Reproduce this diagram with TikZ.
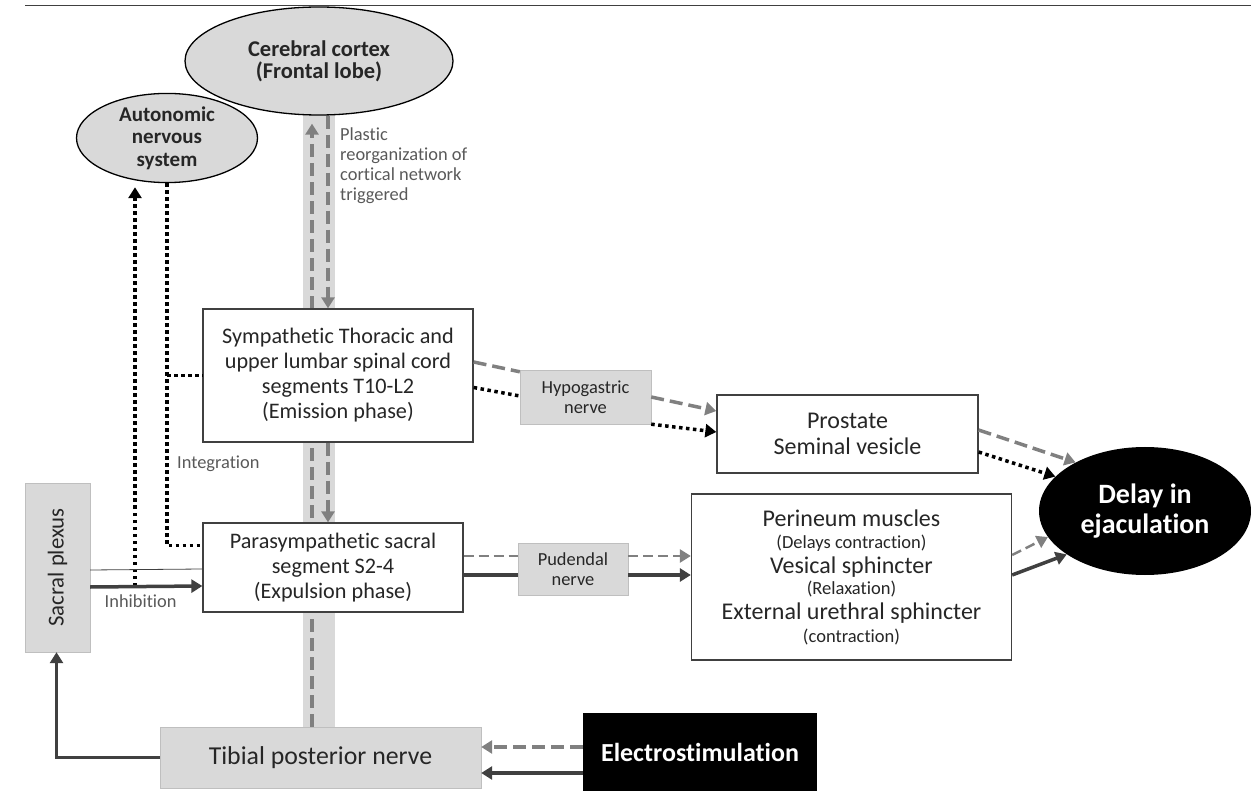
\documentclass[tikz,border=0pt]{standalone}
\usepackage{fontspec}
\setmainfont{Carlito}[Ligatures=NoCommon]
\usetikzlibrary{shapes.geometric,arrows.meta,backgrounds}

\definecolor{nervefill}{HTML}{D9D9D9}
\definecolor{nerveline}{HTML}{BFBFBF}
\definecolor{dashgray}{HTML}{808080}
\definecolor{darkline}{HTML}{404040}
\definecolor{textgray}{HTML}{262626}
\definecolor{labelgray}{HTML}{595959}

\tikzset{
  every node/.style={text=textgray},
  stage/.style={draw=darkline, line width=1.3pt, fill=white, align=center,
    inner sep=0pt, font=\fontsize{22.2}{25}\selectfont},
  nervebox/.style={draw=nerveline, fill=nervefill, align=center, inner sep=0pt,
    font=\fontsize{18.4}{20}\selectfont},
  centre/.style={ellipse, draw=black, line width=1.3pt, fill=nervefill,
    align=center, inner sep=0pt, font=\bfseries\fontsize{21}{22.5}\selectfont},
  note/.style={text=labelgray, align=left, inner sep=0pt,
    font=\fontsize{18.4}{20}\selectfont},
  headed/.style={-{Triangle[length=11pt,width=13pt]}},
  greydash/.style={draw=dashgray, line width=3.5pt, dash pattern=on 13pt off 6pt},
  thindash/.style={draw=dashgray, line width=2.5pt, dash pattern=on 10pt off 5pt},
  blackdot/.style={draw=black, line width=3.5pt, dash pattern=on 3.5pt off 3.5pt},
  darkarrow/.style={draw=darkline, line width=3.5pt},
}

\begin{document}
\begin{tikzpicture}[x=1pt,y=-1pt]
  \useasboundingbox (0,0) rectangle (1251,791);
  \draw[darkline, line width=1.5pt] (25,5.5) -- (1251,5.5);

  % centres
  \node[centre, minimum width=268pt, minimum height=108pt, font=\bfseries\fontsize{22.5}{22}\selectfont] (cortex) at (319,61) {Cerebral cortex\\(Frontal lobe)};
  \node[centre, minimum width=181pt, minimum height=84pt] (ans) at (167,138) {Autonomic\\nervous\\system};

  % spinal segments
  \node[stage, minimum width=270pt, minimum height=133pt] (symp) at (338,375.5)
    {Sympathetic Thoracic and\\upper lumbar spinal cord\\segments T10-L2\\(Emission phase)};
  \node[stage, minimum width=260pt, minimum height=89pt] (para) at (333,567.5)
    {Parasympathetic sacral\\segment S2-4\\(Expulsion phase)};

  % nerves
  \node[nervebox, minimum width=131pt, minimum height=54pt] (hypo) at (585.5,397) {Hypogastric\\nerve};
  \node[nervebox, minimum width=110pt, minimum height=52pt] (pud) at (573,569) {Pudendal\\nerve};
  \node[nervebox, minimum width=65pt, minimum height=169pt, font=\fontsize{22.8}{22}\selectfont] (sacral) at (57.5,567.5) {\rotatebox{90}{Sacral plexus}};
  \node[nervebox, minimum width=321pt, minimum height=61pt, font=\fontsize{25.8}{26}\selectfont] (tibial) at (320.5,757.5) {Tibial posterior nerve};

  % targets
  \node[stage, minimum width=261pt, minimum height=78pt, font=\fontsize{24}{26}\selectfont] (prost) at (847.5,434) {Prostate\\Seminal vesicle};
  \node[stage, minimum width=320pt, minimum height=166pt, font=\fontsize{24}{25}\selectfont] (perin) at (851.5,577)
    {Perineum muscles\\[-3pt]{\fontsize{18.5}{19}\selectfont (Delays contraction)}\\
     Vesical sphincter\\[-4pt]{\fontsize{18.5}{19}\selectfont (Relaxation)}\\
     External urethral sphincter\\[-2pt]{\fontsize{18.5}{19}\selectfont (contraction)}};
  \node[ellipse, fill=black, text=white, minimum width=212pt, minimum height=128pt, align=center,
    inner sep=0pt, font=\bfseries\fontsize{28}{30}\selectfont] (delay) at (1145,511) {Delay in\\ejaculation};
  \node[fill=black, text=white, minimum width=234pt, minimum height=78pt,
    font=\bfseries\fontsize{26}{28}\selectfont] (elec) at (700,752) {Electrostimulation};

  % labels
  \node[note, anchor=north west] (plastic) at (340,128) {Plastic\\reorganization of\\cortical network\\triggered};
  \node[note, anchor=west] (integ) at (177,464) {Integration};

  \coordinate (bandL) at (312,0);
  \coordinate (bandR) at (328,0);
  \coordinate (upstart) at (135,586);

  \begin{scope}[on background layer]
    \fill[nervefill] (303,112) rectangle (335,727);
    \draw[greydash, headed, shorten >=8pt] (tibial.north -| bandL) -- (cortex.south -| bandL);
  \end{scope}
  \draw[greydash, headed] (cortex.south -| bandR) -- (symp.north -| bandR);
  \draw[greydash, headed] (symp.south -| bandR) -- (para.north -| bandR);

  % autonomic loop
  \draw[blackdot] (ans.south) |- ([yshift=22pt]para.west);
  \draw[blackdot] (ans.south |- symp.west) -- (symp.west);
  \draw[blackdot, headed, shorten >=4pt] (upstart) -- (upstart |- ans.south);

  % sacral plexus
  \draw[darkline, line width=0.8pt] ([yshift=-2.5pt]sacral.east) -- ([yshift=-1.5pt]para.west);
  \draw[darkarrow, headed] ([yshift=-19.5pt]sacral.east) -- ([yshift=-18.5pt]para.west)
    node[note, pos=0.45, below=6pt] {Inhibition};
  \draw[darkarrow, headed] (tibial.west) -| ([xshift=-1pt]sacral.south);

  % emission
  \draw[greydash] ([yshift=13.5pt]symp.east) -- ([yshift=-2pt]hypo.north west);
  \draw[blackdot] ([yshift=-12pt]symp.east) -- ([yshift=1pt]hypo.west);
  \draw[greydash, headed] (hypo.east) -- ([yshift=23pt]prost.west);
  \draw[blackdot, headed] (hypo.south east) -- ([yshift=2pt]prost.west);
  \draw[greydash, headed] ([yshift=4pt]prost.east) -- (delay.145);
  \draw[blackdot, headed] ([yshift=-18pt]prost.east) -- (delay.159);

  % expulsion
  \draw[thindash] ([yshift=11.5pt]para.east) -- ([yshift=13pt]pud.west);
  \draw[thindash, headed] ([yshift=13pt]pud.east) -- ([yshift=21pt]perin.west);
  \draw[darkarrow] ([yshift=-7.5pt]para.east) -- ([yshift=-6pt]pud.west);
  \draw[darkarrow, headed] ([yshift=-6pt]pud.east) -- ([yshift=2pt]perin.west);
  \draw[thindash, headed] ([yshift=22pt]perin.east) -- (delay.195);
  \draw[darkarrow, headed] ([yshift=2pt]perin.east) -- (delay.209);

  % stimulation
  \draw[greydash, headed] ([yshift=5pt]elec.west) -- ([yshift=5pt]elec.west -| tibial.east);
  \draw[darkarrow, headed] ([yshift=-21pt]elec.west) -- ([yshift=-21pt]elec.west -| tibial.east);
\end{tikzpicture}
\end{document}
